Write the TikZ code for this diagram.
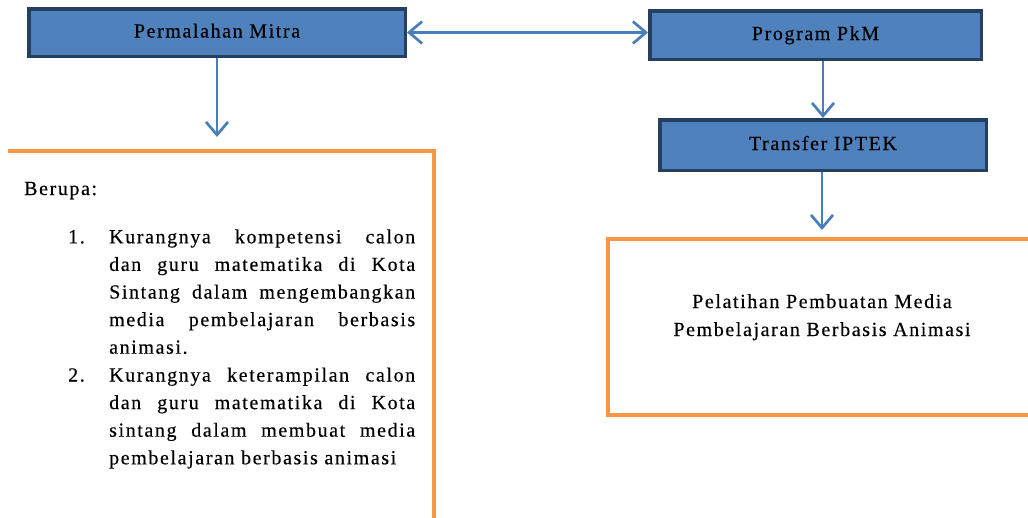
\documentclass[tikz,border=0pt]{standalone}
\usepackage{fontspec}
\setmainfont[LetterSpace=8,FakeBold=0.3]{Liberation Serif}
\usetikzlibrary{arrows.meta}
\definecolor{boxfill}{HTML}{4F81BD}
\definecolor{boxline}{HTML}{243F60}
\definecolor{arrowc}{HTML}{4A7EBB}
\definecolor{orangec}{HTML}{F79646}
\newcommand\mysize{\fontsize{20pt}{27.6pt}\selectfont}
\begin{document}
\begin{tikzpicture}[x=1pt,y=-1pt,
  bluebox/.style={draw=boxline, fill=boxfill, line width=3.5pt, inner sep=0pt,
    font=\mysize, text height=13.5pt, text depth=3.5pt},
  barb/.tip={Straight Barb[length=13pt,width=22pt]},
  conn/.style={draw=arrowc, line width=2.7pt, -barb},
  conn2/.style={draw=arrowc, line width=2.7pt, barb-barb},
  frame/.style={draw=orangec, line width=4pt, line join=miter},
  txt/.style={inner sep=0pt, anchor=base west, font=\mysize},
  ctxt/.style={inner sep=0pt, anchor=base, font=\mysize}]
\useasboundingbox[fill=white] (0,0) rectangle (1028,517);

% blue boxes
\node[bluebox, minimum width=376.5pt, minimum height=47.5pt] (pm) at (217,32.5) {Permalahan Mitra};
\node[bluebox, minimum width=331.5pt, minimum height=48.5pt] (pk) at (815.5,35) {Program PkM};
\node[bluebox, minimum width=326.5pt, minimum height=50.5pt] (tr) at (823,145) {Transfer IPTEK};

% left orange frame (cut by the picture edge)
\draw[frame] (8,150.5) -- (434,150.5) -- (434,530);
\coordinate (c1) at (217,137);

% right orange box
\node[frame, inner sep=0pt, minimum width=441.7pt, minimum height=176pt] (ob) at (829.2,327) {};
\coordinate (c2) at (822,230);

% connectors
\draw[conn2] (pm.east) -- (pm.east -| pk.west);
\draw[conn] (pm.south) -- (c1);
\draw[conn] (pk.south -| tr.north) -- (tr.north);
\draw[conn] (tr.south -| c2) -- (c2);

% left text
\node[txt] (ber) at (24,195) {Berupa:};
\node[txt] (n1) at (68,243.3) {1.};
\node[txt] (l1) at (109,243.3) {\makebox[306pt][s]{Kurangnya kompetensi calon}};
\node[txt] (l2) at (109,270.9) {\makebox[306pt][s]{dan guru matematika di Kota}};
\node[txt] (l3) at (109,298.5) {\makebox[306pt][s]{Sintang dalam mengembangkan}};
\node[txt] (l4) at (109,326.1) {\makebox[306pt][s]{media pembelajaran berbasis}};
\node[txt] (l5) at (109,353.7) {animasi.};
\node[txt] (n2) at (68,381.5) {2.};
\node[txt] (l6) at (109,381.5) {\makebox[306pt][s]{Kurangnya keterampilan calon}};
\node[txt] (l7) at (109,409.1) {\makebox[306pt][s]{dan guru matematika di Kota}};
\node[txt] (l8) at (109,436.7) {\makebox[306pt][s]{sintang dalam membuat media}};
\node[txt] (l9) at (109,464.3) {pembelajaran berbasis animasi};

% right text
\node[ctxt] (r1) at (822,308) {Pelatihan Pembuatan Media};
\node[ctxt] (r2) at (822,336) {Pembelajaran Berbasis Animasi};
\end{tikzpicture}
\end{document}
